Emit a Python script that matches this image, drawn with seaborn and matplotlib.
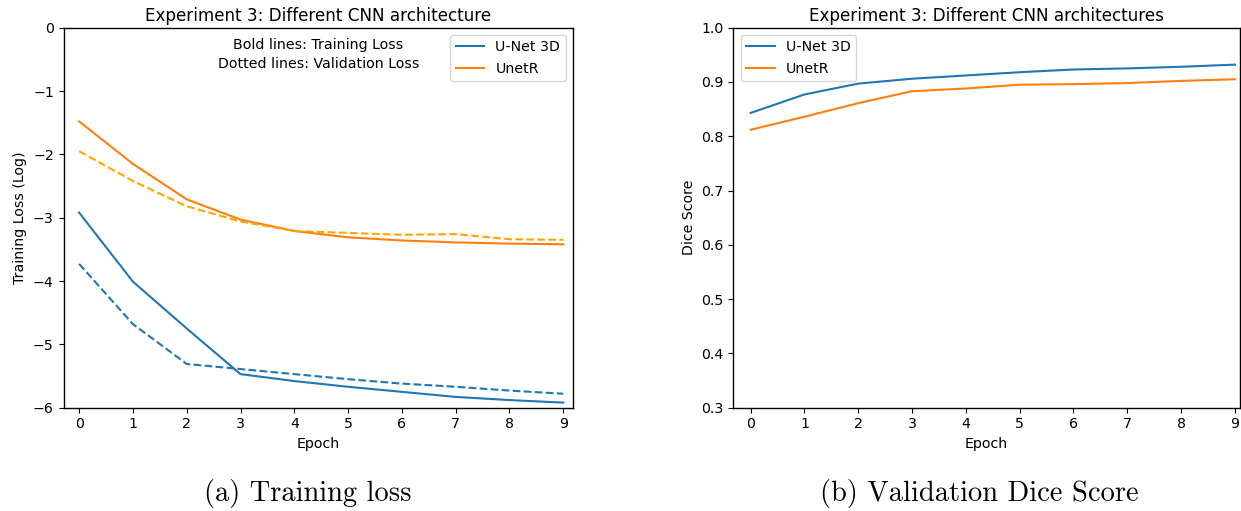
import matplotlib
matplotlib.use("Agg")
import matplotlib.pyplot as plt
import seaborn as sns
import pandas as pd

epochs = [0, 1, 2, 3, 4, 5, 6, 7, 8, 9]
unet_train_loss = [-2.92, -4.01, -4.75, -5.47, -5.58, -5.67, -5.75, -5.83, -5.88, -5.92]
unet_val_loss = [-3.73, -4.68, -5.31, -5.39, -5.47, -5.55, -5.62, -5.67, -5.73, -5.78]
unetr_train_loss = [-1.48, -2.15, -2.71, -3.03, -3.21, -3.31, -3.36, -3.39, -3.41, -3.42]
unetr_val_loss = [-1.95, -2.42, -2.82, -3.06, -3.21, -3.24, -3.27, -3.26, -3.34, -3.35]
unet_dice = [0.843, 0.877, 0.897, 0.906, 0.912, 0.918, 0.923, 0.925, 0.928, 0.932]
unetr_dice = [0.812, 0.836, 0.861, 0.883, 0.888, 0.895, 0.896, 0.898, 0.902, 0.905]
model_names = ["U-Net 3D", "UnetR"]

plt.rcParams['font.family'] = ['DejaVu Sans']
fig = plt.figure(figsize=(12.41, 5.11), dpi=100)
ax1 = fig.add_axes([0.0512, 0.2022, 0.4105, 0.7436])
ax2 = fig.add_axes([0.5910, 0.2022, 0.4080, 0.7436])

blue = "#1f77b4"
orange = "#ff7f0e"
lw = 1.5
fs = 10.2
tfs = 12.1

# Left: losses
sns.lineplot(x=epochs, y=unet_train_loss, ax=ax1, color=blue, lw=lw, label=model_names[0])
sns.lineplot(x=epochs, y=unetr_train_loss, ax=ax1, color=orange, lw=lw, label=model_names[1])
sns.lineplot(x=epochs, y=unet_val_loss, ax=ax1, color=blue, lw=lw, linestyle="--")
sns.lineplot(x=epochs, y=unetr_val_loss, ax=ax1, color="orange", lw=lw, linestyle="--")
ax1.set_xlim(-0.29, 9.18)
ax1.set_ylim(-6, 0)
ax1.set_xticks(epochs)
ax1.set_title("Experiment 3: Different CNN architecture", fontsize=tfs, pad=5)
ax1.set_xlabel("Epoch", fontsize=fs)
ax1.set_ylabel("Training Loss (Log)", fontsize=fs)
ax1.tick_params(labelsize=fs)
ax1.legend(loc="upper right", fontsize=fs)
ax1.text(0.5, 0.972, "Bold lines: Training Loss\nDotted lines: Validation Loss",
         transform=ax1.transAxes, ha="center", va="top", fontsize=fs, linespacing=1.4)

# Right: dice
sns.lineplot(x=epochs, y=unet_dice, ax=ax2, color=blue, lw=lw, label=model_names[0])
sns.lineplot(x=epochs, y=unetr_dice, ax=ax2, color=orange, lw=lw, label=model_names[1])
ax2.set_xlim(-0.32, 9.09)
ax2.set_ylim(0.3, 1.0)
ax2.set_xticks(epochs)
ax2.set_title("Experiment 3: Different CNN architectures", fontsize=tfs, pad=5)
ax2.set_xlabel("Epoch", fontsize=fs)
ax2.set_ylabel("Dice Score", fontsize=fs)
ax2.tick_params(labelsize=fs)
ax2.legend(loc="upper left", fontsize=fs)

for ax in (ax1, ax2):
    for s in ax.spines.values():
        s.set_linewidth(1.0)

fig.text(0.248, 0.035, "(a) Training loss", ha="center", va="center", fontsize=20.5, family="cmr10")
fig.text(0.789, 0.035, "(b) Validation Dice Score", ha="center", va="center", fontsize=20.5, family="cmr10")

fig.savefig("out.png", dpi=100)
